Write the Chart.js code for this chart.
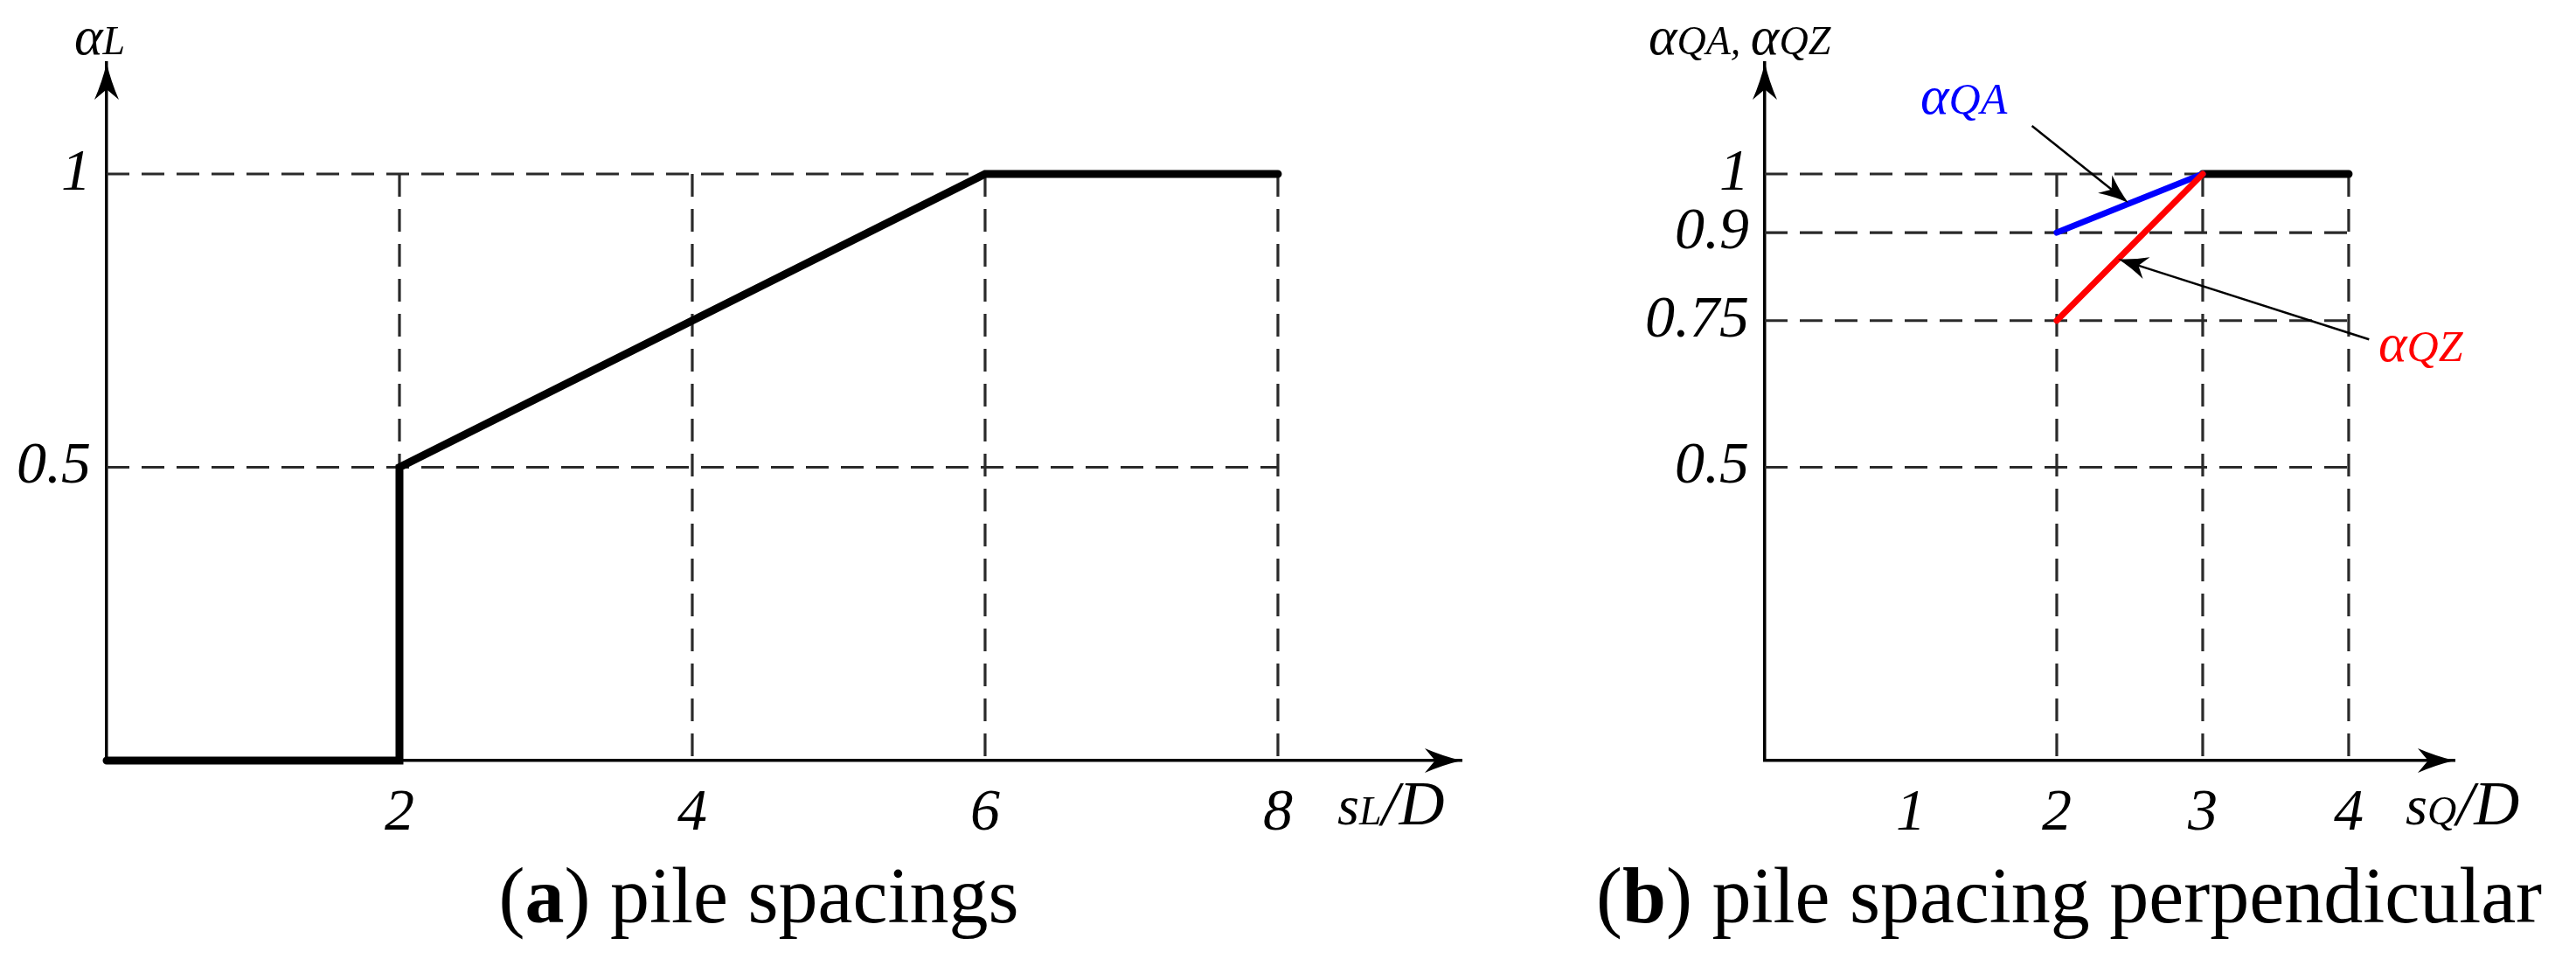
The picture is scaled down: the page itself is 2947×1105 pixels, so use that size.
<!DOCTYPE html>
<html>
<head>
<meta charset="utf-8">
<script src="https://cdn.jsdelivr.net/npm/chart.js@4.4.1/dist/chart.umd.min.js"></script>
<style>
  html, body { margin: 0; padding: 0; background: #fff; }
  body { width: 2947px; height: 1105px; position: relative; overflow: hidden; }
  canvas { position: absolute; top: 0; }
  #left { left: 0; }
  #right { left: 1740px; }
  .cap { position: absolute; top: 980px; font-family: "Liberation Serif", serif; font-size: 90px; line-height: 90px; white-space: nowrap; transform: translateX(-50%); color: #000; }
</style>
</head>
<body>
<canvas id="left" width="1740" height="980"></canvas>
<canvas id="right" width="1207" height="980"></canvas>
<div class="cap" style="left:868px">(<b>a</b>) pile spacings</div>
<div class="cap" style="left:2367px">(<b>b</b>) pile spacing perpendicular</div>
<script>
const FONT = '"Liberation Serif", serif';

// (a) spacing in load direction
const spacingL = [0, 2, 2, 6, 8];
const alphaL = [0, 0, 0.5, 1, 1];
const ticksLX = [2, 4, 6, 8];
const ticksLY = [0.5, 1];

// (b) spacing perpendicular
const spacingQ = [2, 3];
const alphaQA = [0.9, 1];
const alphaQZ = [0.75, 1];
const spacingQFlat = [3, 4];
const alphaQFlat = [1, 1];
const ticksQX = [1, 2, 3, 4];
const ticksQY = [0.5, 0.75, 0.9, 1];
const gridQX = [2, 3, 4];

// label arrows in data units: [fromX, fromY, toX, toY]
const arrowQA = [1.83, 1.082, 2.49, 0.951];
const arrowQZ = [4.14, 0.718, 2.42, 0.855];
const labelQA = [1.066, 1.103];
const labelQZ = [4.204, 0.681];

function pts(xs, ys) {
    return xs.map((x, i) => ({ x: x, y: ys[i] }));
}

function richText(ctx, parts, x, y) {
    ctx.textBaseline = 'alphabetic';
    ctx.textAlign = 'left';
    parts.forEach(p => {
        ctx.font = 'italic ' + p[1] + 'px ' + FONT;
        ctx.fillStyle = p[2] || '#000';
        ctx.fillText(p[0], x, y);
        x += ctx.measureText(p[0]).width;
    });
}

function arrowHead(ctx, x, y, ang, len, half) {
    ctx.save();
    ctx.translate(x, y);
    ctx.rotate(ang);
    ctx.beginPath();
    ctx.moveTo(0, 0);
    ctx.quadraticCurveTo(-len * 0.5, -half * 0.35, -len, -half);
    ctx.lineTo(-len * 0.72, 0);
    ctx.lineTo(-len, half);
    ctx.quadraticCurveTo(-len * 0.5, half * 0.35, 0, 0);
    ctx.fillStyle = '#000';
    ctx.fill();
    ctx.restore();
}

function makeSketch(cfg) {
    return {
        id: 'sketch',
        beforeDatasetsDraw(chart) {
            const ctx = chart.ctx, xs = chart.scales.x, ys = chart.scales.y;
            ctx.save();
            ctx.strokeStyle = '#2a2a2a';
            ctx.lineWidth = 3.2;
            ctx.setLineDash([26, 14]);
            cfg.gridY.forEach(v => {
                const py = ys.getPixelForValue(v);
                ctx.beginPath();
                ctx.moveTo(xs.getPixelForValue(0), py);
                ctx.lineTo(xs.getPixelForValue(cfg.xEnd), py);
                ctx.stroke();
            });
            cfg.gridX.forEach(v => {
                const px = xs.getPixelForValue(v);
                ctx.beginPath();
                ctx.moveTo(px, ys.getPixelForValue(cfg.yEnd));
                ctx.lineTo(px, ys.getPixelForValue(0));
                ctx.stroke();
            });
            ctx.restore();
        },
        afterDraw(chart) {
            const ctx = chart.ctx, a = chart.chartArea, xs = chart.scales.x, ys = chart.scales.y;
            ctx.save();
            // axis arrows
            arrowHead(ctx, a.right, a.bottom, 0, 42, 14);
            arrowHead(ctx, a.left, a.top, -Math.PI / 2, 42, 14);
            // axis titles
            richText(ctx, cfg.yTitle, a.left + cfg.yTitleAt[0], cfg.yTitleAt[1]);
            richText(ctx, cfg.xTitle, a.right + cfg.xTitleAt[0], a.bottom + cfg.xTitleAt[1]);
            // callouts
            (cfg.notes || []).forEach(n => {
                const x1 = xs.getPixelForValue(n.arrow[0]), y1 = ys.getPixelForValue(n.arrow[1]);
                const x2 = xs.getPixelForValue(n.arrow[2]), y2 = ys.getPixelForValue(n.arrow[3]);
                const ang = Math.atan2(y2 - y1, x2 - x1);
                ctx.strokeStyle = '#000';
                ctx.lineWidth = 2.5;
                ctx.beginPath();
                ctx.moveTo(x1, y1);
                ctx.lineTo(x2 - Math.cos(ang) * 20, y2 - Math.sin(ang) * 20);
                ctx.stroke();
                arrowHead(ctx, x2, y2, ang, 34, 13);
                richText(ctx, n.text, xs.getPixelForValue(n.at[0]), ys.getPixelForValue(n.at[1]));
            });
            ctx.restore();
        }
    };
}

function baseOptions(xMax, padRight, yWidth, ticksX, ticksY) {
    return {
        responsive: false,
        animation: false,
        events: [],
        layout: { padding: { top: 72, right: padRight, left: 0, bottom: 0 } },
        plugins: { legend: { display: false }, tooltip: { enabled: false } },
        scales: {
            x: {
                type: 'linear', min: 0, max: xMax,
                grid: { display: false, drawTicks: false },
                border: { display: true, color: '#000', width: 3.5 },
                afterBuildTicks: s => { s.ticks = ticksX.map(v => ({ value: v })); },
                afterFit: s => { s.height = 110; },
                ticks: { padding: 20, color: '#000', font: { family: FONT, style: 'italic', size: 68 } }
            },
            y: {
                type: 'linear', min: 0, max: 1.1893,
                grid: { display: false, drawTicks: false },
                border: { display: true, color: '#000', width: 3.5 },
                afterBuildTicks: s => { s.ticks = ticksY.map(v => ({ value: v })); },
                afterFit: s => { s.width = yWidth; },
                ticks: { padding: 18, color: '#000', font: { family: FONT, style: 'italic', size: 68 },
                         callback: v => String(v) }
            }
        }
    };
}

function lineSet(data, color, width) {
    return {
        data: data,
        borderColor: color,
        borderWidth: width,
        pointRadius: 0,
        tension: 0,
        clip: false,
        borderJoinStyle: 'miter',
        borderCapStyle: 'round'
    };
}

new Chart(document.getElementById('left').getContext('2d'), {
    type: 'line',
    data: { datasets: [lineSet(pts(spacingL, alphaL), '#000', 9)] },
    options: baseOptions(9.254, 68, 122, ticksLX, ticksLY),
    plugins: [makeSketch({
        gridX: ticksLX, gridY: ticksLY, xEnd: 8, yEnd: 1,
        yTitle: [['α', 62], ['L', 46]], yTitleAt: [-37, 62],
        xTitle: [['s', 64], ['L', 46], ['/D', 72]], xTitleAt: [-142, 73]
    })]
});

new Chart(document.getElementById('right').getContext('2d'), {
    type: 'line',
    data: {
        datasets: [
            lineSet(pts(spacingQ, alphaQZ), '#ff0000', 7),
            lineSet(pts(spacingQ, alphaQA), '#0000ff', 7),
            lineSet(pts(spacingQFlat, alphaQFlat), '#000', 9)
        ]
    },
    options: baseOptions(4.725, 139, 279, ticksQX, ticksQY),
    plugins: [makeSketch({
        gridX: gridQX, gridY: ticksQY, xEnd: 4, yEnd: 1,
        yTitle: [['α', 62], ['QA', 46], [', ', 46], ['α', 62], ['QZ', 46]], yTitleAt: [-133, 62],
        xTitle: [['s', 64], ['Q', 46], ['/D', 72]], xTitleAt: [-56, 73],
        notes: [
            { arrow: arrowQA, at: labelQA, text: [['α', 62, '#0000ff'], ['QA', 50, '#0000ff']] },
            { arrow: arrowQZ, at: labelQZ, text: [['α', 62, '#ff0000'], ['QZ', 50, '#ff0000']] }
        ]
    })]
});
</script>
</body>
</html>
